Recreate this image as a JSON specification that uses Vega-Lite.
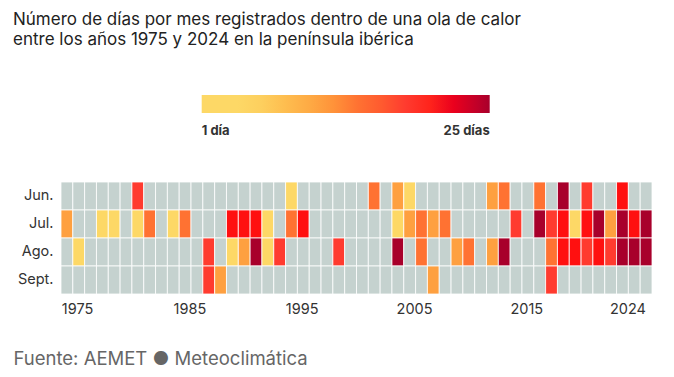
{
  "$schema": "https://vega.github.io/schema/vega-lite/v6.json",
  "autosize": {"type": "none"},
  "padding": {"left": 61, "top": 182, "right": 22, "bottom": 83},
  "width": 591,
  "height": 112,
  "background": "#ffffff",
  "config": {"font": "Inter", "view": {"stroke": null}},
  "title": {
    "text": ["Número de días por mes registrados dentro de una ola de calor", "entre los años 1975 y 2024 en la península ibérica"],
    "anchor": "start",
    "frame": "group",
    "dx": -48,
    "offset": 46,
    "font": "Inter",
    "fontSize": 17,
    "fontWeight": "normal",
    "color": "#222222",
    "lineHeight": 20
  },
  "data": {"values": [
    {"anio":1975,"mes":"Jun.","dias":0},{"anio":1975,"mes":"Jul.","dias":11},{"anio":1975,"mes":"Ago.","dias":0},{"anio":1975,"mes":"Sept.","dias":0},
    {"anio":1976,"mes":"Jun.","dias":0},{"anio":1976,"mes":"Jul.","dias":0},{"anio":1976,"mes":"Ago.","dias":2},{"anio":1976,"mes":"Sept.","dias":0},
    {"anio":1977,"mes":"Jun.","dias":0},{"anio":1977,"mes":"Jul.","dias":0},{"anio":1977,"mes":"Ago.","dias":0},{"anio":1977,"mes":"Sept.","dias":0},
    {"anio":1978,"mes":"Jun.","dias":0},{"anio":1978,"mes":"Jul.","dias":2},{"anio":1978,"mes":"Ago.","dias":0},{"anio":1978,"mes":"Sept.","dias":0},
    {"anio":1979,"mes":"Jun.","dias":0},{"anio":1979,"mes":"Jul.","dias":2},{"anio":1979,"mes":"Ago.","dias":0},{"anio":1979,"mes":"Sept.","dias":0},
    {"anio":1980,"mes":"Jun.","dias":0},{"anio":1980,"mes":"Jul.","dias":0},{"anio":1980,"mes":"Ago.","dias":0},{"anio":1980,"mes":"Sept.","dias":0},
    {"anio":1981,"mes":"Jun.","dias":18},{"anio":1981,"mes":"Jul.","dias":2},{"anio":1981,"mes":"Ago.","dias":0},{"anio":1981,"mes":"Sept.","dias":0},
    {"anio":1982,"mes":"Jun.","dias":0},{"anio":1982,"mes":"Jul.","dias":14},{"anio":1982,"mes":"Ago.","dias":0},{"anio":1982,"mes":"Sept.","dias":0},
    {"anio":1983,"mes":"Jun.","dias":0},{"anio":1983,"mes":"Jul.","dias":0},{"anio":1983,"mes":"Ago.","dias":0},{"anio":1983,"mes":"Sept.","dias":0},
    {"anio":1984,"mes":"Jun.","dias":0},{"anio":1984,"mes":"Jul.","dias":2},{"anio":1984,"mes":"Ago.","dias":0},{"anio":1984,"mes":"Sept.","dias":0},
    {"anio":1985,"mes":"Jun.","dias":0},{"anio":1985,"mes":"Jul.","dias":14},{"anio":1985,"mes":"Ago.","dias":0},{"anio":1985,"mes":"Sept.","dias":0},
    {"anio":1986,"mes":"Jun.","dias":0},{"anio":1986,"mes":"Jul.","dias":0},{"anio":1986,"mes":"Ago.","dias":0},{"anio":1986,"mes":"Sept.","dias":0},
    {"anio":1987,"mes":"Jun.","dias":0},{"anio":1987,"mes":"Jul.","dias":0},{"anio":1987,"mes":"Ago.","dias":18},{"anio":1987,"mes":"Sept.","dias":18},
    {"anio":1988,"mes":"Jun.","dias":0},{"anio":1988,"mes":"Jul.","dias":0},{"anio":1988,"mes":"Ago.","dias":0},{"anio":1988,"mes":"Sept.","dias":11},
    {"anio":1989,"mes":"Jun.","dias":0},{"anio":1989,"mes":"Jul.","dias":21},{"anio":1989,"mes":"Ago.","dias":2},{"anio":1989,"mes":"Sept.","dias":0},
    {"anio":1990,"mes":"Jun.","dias":0},{"anio":1990,"mes":"Jul.","dias":21},{"anio":1990,"mes":"Ago.","dias":11},{"anio":1990,"mes":"Sept.","dias":0},
    {"anio":1991,"mes":"Jun.","dias":0},{"anio":1991,"mes":"Jul.","dias":21},{"anio":1991,"mes":"Ago.","dias":25},{"anio":1991,"mes":"Sept.","dias":0},
    {"anio":1992,"mes":"Jun.","dias":0},{"anio":1992,"mes":"Jul.","dias":2},{"anio":1992,"mes":"Ago.","dias":2},{"anio":1992,"mes":"Sept.","dias":0},
    {"anio":1993,"mes":"Jun.","dias":0},{"anio":1993,"mes":"Jul.","dias":0},{"anio":1993,"mes":"Ago.","dias":18},{"anio":1993,"mes":"Sept.","dias":0},
    {"anio":1994,"mes":"Jun.","dias":2},{"anio":1994,"mes":"Jul.","dias":14},{"anio":1994,"mes":"Ago.","dias":0},{"anio":1994,"mes":"Sept.","dias":0},
    {"anio":1995,"mes":"Jun.","dias":0},{"anio":1995,"mes":"Jul.","dias":21},{"anio":1995,"mes":"Ago.","dias":0},{"anio":1995,"mes":"Sept.","dias":0},
    {"anio":1996,"mes":"Jun.","dias":0},{"anio":1996,"mes":"Jul.","dias":0},{"anio":1996,"mes":"Ago.","dias":0},{"anio":1996,"mes":"Sept.","dias":0},
    {"anio":1997,"mes":"Jun.","dias":0},{"anio":1997,"mes":"Jul.","dias":0},{"anio":1997,"mes":"Ago.","dias":0},{"anio":1997,"mes":"Sept.","dias":0},
    {"anio":1998,"mes":"Jun.","dias":0},{"anio":1998,"mes":"Jul.","dias":0},{"anio":1998,"mes":"Ago.","dias":18},{"anio":1998,"mes":"Sept.","dias":0},
    {"anio":1999,"mes":"Jun.","dias":0},{"anio":1999,"mes":"Jul.","dias":0},{"anio":1999,"mes":"Ago.","dias":0},{"anio":1999,"mes":"Sept.","dias":0},
    {"anio":2000,"mes":"Jun.","dias":0},{"anio":2000,"mes":"Jul.","dias":0},{"anio":2000,"mes":"Ago.","dias":0},{"anio":2000,"mes":"Sept.","dias":0},
    {"anio":2001,"mes":"Jun.","dias":14},{"anio":2001,"mes":"Jul.","dias":0},{"anio":2001,"mes":"Ago.","dias":0},{"anio":2001,"mes":"Sept.","dias":0},
    {"anio":2002,"mes":"Jun.","dias":0},{"anio":2002,"mes":"Jul.","dias":0},{"anio":2002,"mes":"Ago.","dias":0},{"anio":2002,"mes":"Sept.","dias":0},
    {"anio":2003,"mes":"Jun.","dias":11},{"anio":2003,"mes":"Jul.","dias":2},{"anio":2003,"mes":"Ago.","dias":25},{"anio":2003,"mes":"Sept.","dias":0},
    {"anio":2004,"mes":"Jun.","dias":2},{"anio":2004,"mes":"Jul.","dias":11},{"anio":2004,"mes":"Ago.","dias":0},{"anio":2004,"mes":"Sept.","dias":0},
    {"anio":2005,"mes":"Jun.","dias":0},{"anio":2005,"mes":"Jul.","dias":14},{"anio":2005,"mes":"Ago.","dias":14},{"anio":2005,"mes":"Sept.","dias":0},
    {"anio":2006,"mes":"Jun.","dias":0},{"anio":2006,"mes":"Jul.","dias":11},{"anio":2006,"mes":"Ago.","dias":0},{"anio":2006,"mes":"Sept.","dias":11},
    {"anio":2007,"mes":"Jun.","dias":0},{"anio":2007,"mes":"Jul.","dias":14},{"anio":2007,"mes":"Ago.","dias":0},{"anio":2007,"mes":"Sept.","dias":0},
    {"anio":2008,"mes":"Jun.","dias":0},{"anio":2008,"mes":"Jul.","dias":0},{"anio":2008,"mes":"Ago.","dias":11},{"anio":2008,"mes":"Sept.","dias":0},
    {"anio":2009,"mes":"Jun.","dias":0},{"anio":2009,"mes":"Jul.","dias":0},{"anio":2009,"mes":"Ago.","dias":14},{"anio":2009,"mes":"Sept.","dias":0},
    {"anio":2010,"mes":"Jun.","dias":0},{"anio":2010,"mes":"Jul.","dias":0},{"anio":2010,"mes":"Ago.","dias":0},{"anio":2010,"mes":"Sept.","dias":0},
    {"anio":2011,"mes":"Jun.","dias":11},{"anio":2011,"mes":"Jul.","dias":0},{"anio":2011,"mes":"Ago.","dias":11},{"anio":2011,"mes":"Sept.","dias":0},
    {"anio":2012,"mes":"Jun.","dias":14},{"anio":2012,"mes":"Jul.","dias":0},{"anio":2012,"mes":"Ago.","dias":25},{"anio":2012,"mes":"Sept.","dias":0},
    {"anio":2013,"mes":"Jun.","dias":0},{"anio":2013,"mes":"Jul.","dias":18},{"anio":2013,"mes":"Ago.","dias":0},{"anio":2013,"mes":"Sept.","dias":0},
    {"anio":2014,"mes":"Jun.","dias":0},{"anio":2014,"mes":"Jul.","dias":0},{"anio":2014,"mes":"Ago.","dias":0},{"anio":2014,"mes":"Sept.","dias":0},
    {"anio":2015,"mes":"Jun.","dias":14},{"anio":2015,"mes":"Jul.","dias":25},{"anio":2015,"mes":"Ago.","dias":0},{"anio":2015,"mes":"Sept.","dias":0},
    {"anio":2016,"mes":"Jun.","dias":0},{"anio":2016,"mes":"Jul.","dias":18},{"anio":2016,"mes":"Ago.","dias":14},{"anio":2016,"mes":"Sept.","dias":18},
    {"anio":2017,"mes":"Jun.","dias":25},{"anio":2017,"mes":"Jul.","dias":21},{"anio":2017,"mes":"Ago.","dias":21},{"anio":2017,"mes":"Sept.","dias":0},
    {"anio":2018,"mes":"Jun.","dias":0},{"anio":2018,"mes":"Jul.","dias":2},{"anio":2018,"mes":"Ago.","dias":21},{"anio":2018,"mes":"Sept.","dias":0},
    {"anio":2019,"mes":"Jun.","dias":18},{"anio":2019,"mes":"Jul.","dias":21},{"anio":2019,"mes":"Ago.","dias":18},{"anio":2019,"mes":"Sept.","dias":0},
    {"anio":2020,"mes":"Jun.","dias":0},{"anio":2020,"mes":"Jul.","dias":25},{"anio":2020,"mes":"Ago.","dias":21},{"anio":2020,"mes":"Sept.","dias":0},
    {"anio":2021,"mes":"Jun.","dias":0},{"anio":2021,"mes":"Jul.","dias":11},{"anio":2021,"mes":"Ago.","dias":18},{"anio":2021,"mes":"Sept.","dias":0},
    {"anio":2022,"mes":"Jun.","dias":21},{"anio":2022,"mes":"Jul.","dias":25},{"anio":2022,"mes":"Ago.","dias":25},{"anio":2022,"mes":"Sept.","dias":0},
    {"anio":2023,"mes":"Jun.","dias":0},{"anio":2023,"mes":"Jul.","dias":21},{"anio":2023,"mes":"Ago.","dias":25},{"anio":2023,"mes":"Sept.","dias":0},
    {"anio":2024,"mes":"Jun.","dias":0},{"anio":2024,"mes":"Jul.","dias":25},{"anio":2024,"mes":"Ago.","dias":25},{"anio":2024,"mes":"Sept.","dias":0}
  ]},
  "layer": [
    {
      "mark": {"type": "rect", "stroke": "#ffffff", "strokeWidth": 0.8},
      "encoding": {
        "x": {"field": "anio", "type": "ordinal", "axis": null, "scale": {"paddingInner": 0, "paddingOuter": 0}},
        "y": {
          "field": "mes", "type": "nominal", "sort": ["Jun.", "Jul.", "Ago.", "Sept."],
          "scale": {"paddingInner": 0, "paddingOuter": 0},
          "axis": {"title": null, "domain": false, "ticks": false, "labelPadding": 8, "labelFontSize": 14.5, "labelColor": "#333333", "labelFont": "Inter"}
        },
        "color": {
          "condition": {"test": "datum.dias == 0", "value": "#c5d2cf"},
          "field": "dias", "type": "quantitative",
          "scale": {"domain": [1, 5, 11, 14, 18, 21, 25], "range": ["#fdd866", "#fdd866", "#fea040", "#ff7232", "#ff3b2f", "#ff1010", "#a8002b"]},
          "legend": {
            "orient": "none", "direction": "horizontal", "title": null,
            "legendX": 140.7, "legendY": -87, "padding": 0,
            "gradientLength": 288, "gradientThickness": 18,
            "values": [1, 25],
            "labelExpr": "datum.value == 1 ? '1 día' : '25 días'",
            "labelFont": "Inter", "labelFontSize": 13, "labelFontWeight": "bold", "labelColor": "#333333",
            "labelOffset": 12
          }
        }
      }
    },
    {
      "mark": {"type": "point", "opacity": 0},
      "encoding": {
        "x": {
          "field": "anio", "type": "quantitative",
          "scale": {"domain": [1973.57, 2026.19], "nice": false, "zero": false},
          "axis": {
            "values": [1975, 1985, 1995, 2005, 2015, 2024], "format": "d",
            "ticks": false, "domain": false, "grid": false, "labelPadding": 8,
            "labelFontSize": 14.5, "labelColor": "#333333", "labelFont": "Inter",
            "title": "Fuente: AEMET ● Meteoclimática",
            "titleFont": "Inter", "titleFontSize": 18.5, "titleFontWeight": "normal", "titleColor": "#666666",
            "titleAnchor": "start", "titleAlign": "left", "titleBaseline": "middle",
            "titleX": -48, "titleY": 64
          }
        }
      }
    }
  ],
  "resolve": {"scale": {"x": "independent"}}
}
